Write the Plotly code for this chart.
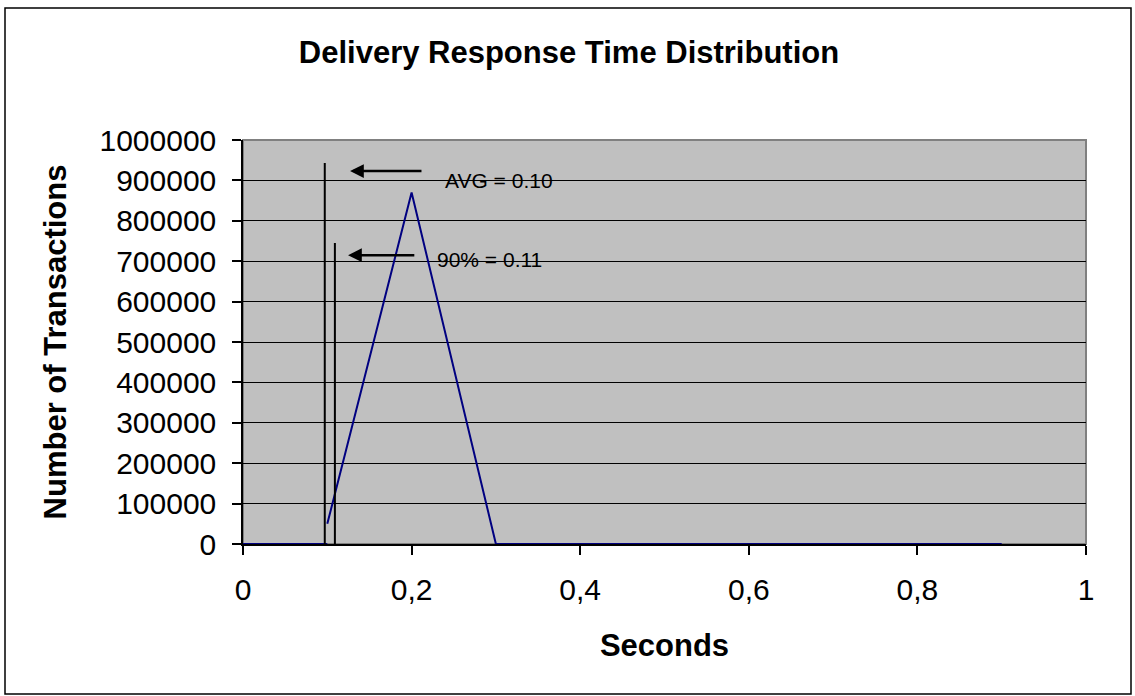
import plotly.graph_objects as go

# ---- data ----
bins = [0.1, 0.2, 0.3, 0.4, 0.5, 0.6, 0.7, 0.8, 0.9]
counts = [50000, 870000, 0, 0, 0, 0, 0, 0, 0]
baseline_x = [0.0, 0.1]
baseline_y = [0, 0]

avg_value = 0.097
avg_label = "AVG = 0.10"
avg_line_top = 943000
p90_value = 0.109
p90_label = "90% = 0.11"
p90_line_top = 745000

avg_arrow_tail = (0.2135, 923000)
avg_arrow_head = (0.127, 923000)
p90_arrow_tail = (0.205, 715000)
p90_arrow_head = (0.1246, 715000)
avg_text_pos = (0.237, 900000)
p90_text_pos = (0.228, 704000)

x_ticks = [0, 0.2, 0.4, 0.6, 0.8, 1]
y_ticks = list(range(0, 1000001, 100000))

FONT = "Liberation Sans, Arial, sans-serif"
NAVY = "#000080"

fig = go.Figure()
fig.add_trace(go.Scatter(x=baseline_x, y=baseline_y, mode="lines",
                         line=dict(color=NAVY, width=2), hoverinfo="skip", showlegend=False))
fig.add_trace(go.Scatter(x=bins, y=counts, mode="lines",
                         line=dict(color=NAVY, width=2), showlegend=False))
fig.add_trace(go.Scatter(x=[avg_value, avg_value], y=[0, avg_line_top], mode="lines",
                         line=dict(color="black", width=2), showlegend=False))
fig.add_trace(go.Scatter(x=[p90_value, p90_value], y=[0, p90_line_top], mode="lines",
                         line=dict(color="black", width=2), showlegend=False))

for tail, head in [(avg_arrow_tail, avg_arrow_head), (p90_arrow_tail, p90_arrow_head)]:
    fig.add_annotation(x=head[0], y=head[1], ax=tail[0], ay=tail[1],
                       xref="x", yref="y", axref="x", ayref="y",
                       showarrow=True, arrowhead=2, arrowsize=1.1, arrowwidth=2.5,
                       arrowcolor="black", text="")

for pos, label in [(avg_text_pos, avg_label), (p90_text_pos, p90_label)]:
    fig.add_annotation(x=pos[0], y=pos[1], xref="x", yref="y", text=label,
                       showarrow=False, xanchor="left", yanchor="middle",
                       font=dict(family=FONT, size=21, color="black"))

# pixel frame of the plot area
L, R, T, B = 243, 1086, 140, 544
W = R - L
H = B - T
def px_to_paper_x(px):
    return (px - L) / W
def px_to_paper_y(py):
    return (B - py) / H

# outer chart border
fig.add_shape(type="rect", xref="paper", yref="paper",
              x0=px_to_paper_x(5), x1=px_to_paper_x(1131),
              y0=px_to_paper_y(694), y1=px_to_paper_y(8),
              line=dict(color="black", width=1.5), layer="below")
# plot area border
fig.add_shape(type="rect", xref="paper", yref="paper", x0=0, x1=1, y0=0, y1=1,
              line=dict(color="#808080", width=2), layer="below")

fig.update_layout(
    width=1135, height=696,
    margin=dict(l=L, r=1135 - R, t=T, b=696 - B),
    paper_bgcolor="white",
    plot_bgcolor="#C0C0C0",
    separators=",.",
    font=dict(family=FONT, color="black"),
    title=dict(text="<b>Delivery Response Time Distribution</b>",
               x=569 / 1135, xref="container", xanchor="center", y=1 - 52 / 696, yanchor="middle",
               font=dict(family=FONT, size=31, color="black")),
    xaxis=dict(range=[0, 1], tickvals=x_ticks, showgrid=False, zeroline=False,
               showline=True, linecolor="black", linewidth=1.5, layer="below traces",
               ticks="outside", ticklen=9, tickcolor="black", tickwidth=1.5,
               tickfont=dict(family=FONT, size=30), ticklabelstandoff=9,
               title=dict(text="<b>Seconds</b>", font=dict(family=FONT, size=31), standoff=30)),
    yaxis=dict(range=[0, 1000000], tickvals=y_ticks, tickformat="d",
               showgrid=True, gridcolor="black", gridwidth=1, zeroline=False,
               showline=True, linecolor="black", linewidth=1.5,
               ticks="outside", ticklen=9, tickcolor="black", tickwidth=1.5,
               tickfont=dict(family=FONT, size=30), ticklabelstandoff=10,
               title=dict(text="<b>Number of Transactions</b>", font=dict(family=FONT, size=31), standoff=24)),
)

fig.write_html("out.html", config={"displayModeBar": False},
               post_script="document.body.style.margin='0';document.body.style.overflow='hidden';")
